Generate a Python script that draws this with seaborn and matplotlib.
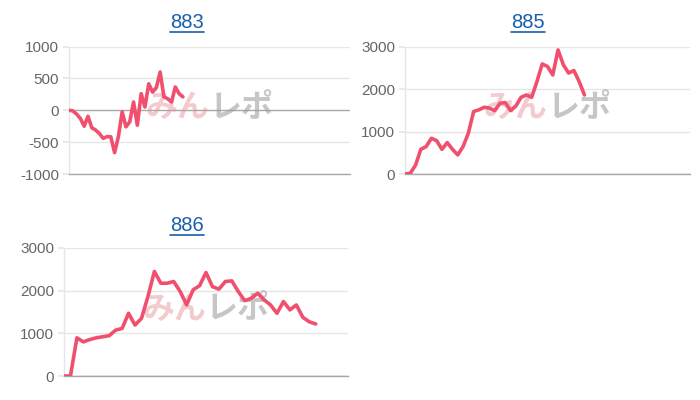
import matplotlib
matplotlib.use("Agg")
import matplotlib.pyplot as plt
import seaborn as sns
import pandas as pd
from matplotlib.lines import Line2D

sns.set_theme(style="white")
plt.rcParams['font.family'] = ['Liberation Sans', 'Noto Sans CJK JP', 'DejaVu Sans']

titles = ["883", "885", "886"]
s883 = [0, -10, -60, -130, -250, -95, -275, -310, -365, -440, -415, -415, -665, -415,
        -25, -260, -180, 130, -235, 260, 50, 415, 285, 355, 600, 210, 180, 130, 365, 260, 210]
s885 = [0, 15, 210, 580, 645, 840, 785, 580, 740, 580, 450, 645, 960, 1470, 1510, 1570,
        1550, 1490, 1665, 1680, 1490, 1600, 1805, 1860, 1805, 2175, 2590, 2530, 2330, 2920,
        2570, 2375, 2435, 2175, 1860]
s886 = [0, 0, 895, 800, 855, 895, 920, 945, 1075, 1115, 1470, 1195, 1350, 1860, 2450, 2175,
        2175, 2215, 1980, 1665, 2020, 2115, 2425, 2095, 2035, 2215, 2230, 1980, 1765, 1820,
        1940, 1785, 1665, 1470, 1745, 1550, 1665, 1375, 1270, 1220]
series = [s883, s885, s886]
x_len = [74, 54, 44]
y_ticks = [[-1000, -500, 0, 500, 1000], [0, 1000, 2000, 3000], [0, 1000, 2000, 3000]]

W, H = 700, 400
fig = plt.figure(figsize=(7, 4), dpi=100)

# axes boxes in pixels: left, top, right, bottom
boxes = [(69, 46.5, 350, 174), (405, 46.5, 690, 174), (64, 248, 348, 376)]
title_pos = [(187, 23), (528, 23), (187, 226)]

line_color = "#f0506e"
grid_color = "#e6e6e6"

for i, (vals, title) in enumerate(zip(series, titles)):
    l, t, r, b = boxes[i]
    ax = fig.add_axes([l / W, 1 - b / H, (r - l) / W, (b - t) / H])
    df = pd.DataFrame({"x": range(len(vals)), "y": vals})
    # watermark
    ax.text(0.5, 0.52, "みん", transform=ax.transAxes, ha="right", va="center",
            fontsize=23, fontweight="bold", color="#e58c96", alpha=0.45,
            family=["Noto Sans CJK JP"], zorder=1)
    ax.text(0.5, 0.52, "レポ", transform=ax.transAxes, ha="left", va="center",
            fontsize=23, fontweight="bold", color="#a0a0a0", alpha=0.6,
            family=["Noto Sans CJK JP"], zorder=1)
    sns.lineplot(data=df, x="x", y="y", ax=ax, color=line_color, linewidth=2.6, zorder=5)
    yt = y_ticks[i]
    ax.set_ylim(yt[0], yt[-1])
    ax.set_xlim(0, x_len[i])
    ax.set_yticks(yt)
    ax.set_yticklabels([str(v) for v in yt])
    ax.set_xticks([])
    ax.set_xlabel("")
    ax.set_ylabel("")
    for v in yt:
        c = "#a8a8a8" if v == 0 else grid_color
        ax.axhline(v, color=c, linewidth=1.0, zorder=0.5)
    for s in ["top", "right"]:
        ax.spines[s].set_visible(False)
    ax.spines["left"].set_color(grid_color)
    ax.spines["left"].set_linewidth(1.0)
    ax.spines["bottom"].set_color("#a8a8a8")
    ax.spines["bottom"].set_linewidth(1.0)
    ax.tick_params(axis="y", length=4, color=grid_color, labelsize=11,
                   labelcolor="#666666", pad=3, left=True)
    ax.patch.set_alpha(0)
    tx, ty = title_pos[i]
    fig.text(tx / W, 1 - ty / H, title, ha="center", va="center",
             fontsize=14.5, color="#1a5fa8")

fig.canvas.draw()
renderer = fig.canvas.get_renderer()
for t in list(fig.texts):
    bb = t.get_window_extent(renderer)
    y = bb.y0 + 0.5
    fig.add_artist(Line2D([bb.x0 / W, bb.x1 / W], [y / H, y / H],
                          transform=fig.transFigure, color="#1a5fa8", linewidth=1.2))

fig.savefig("out.png", dpi=100)
